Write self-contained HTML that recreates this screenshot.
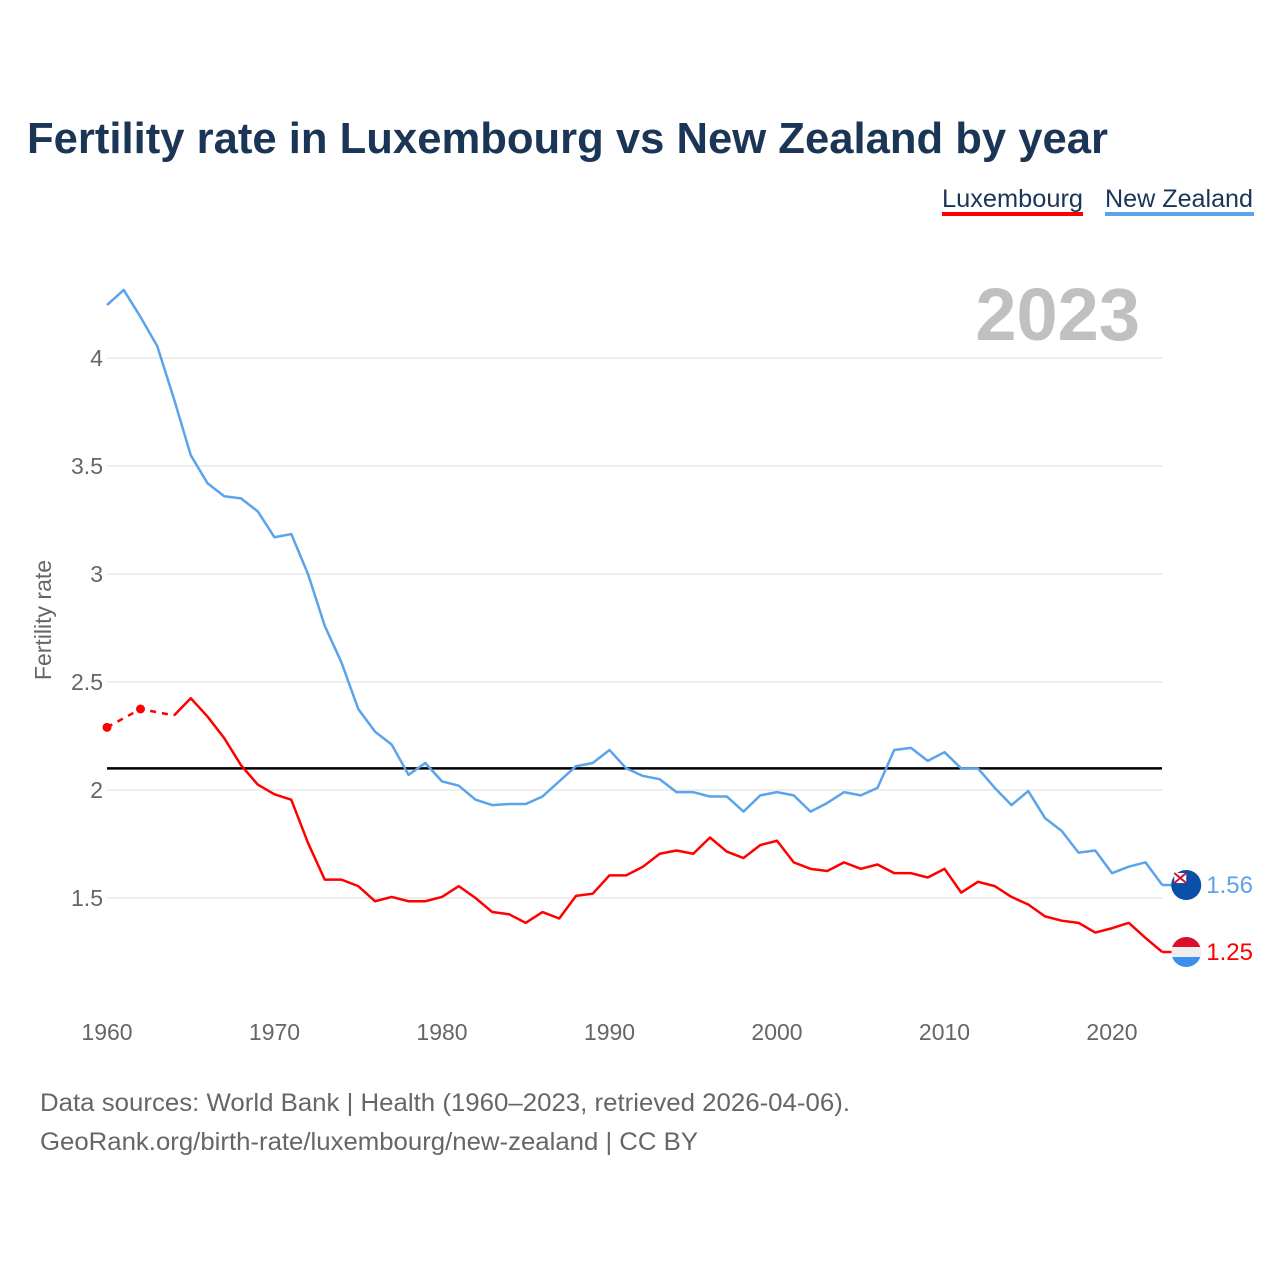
<!DOCTYPE html>
<html><head><meta charset="utf-8"><style>
body{margin:0;background:#fff;font-family:"Liberation Sans",sans-serif;}
#wrap{position:relative;width:1280px;height:1280px;overflow:hidden;}
</style></head><body>
<div id="wrap">
<svg id="chart" width="1280" height="1280">
<text x="27" y="153" font-size="44" font-weight="bold" fill="#1b3556" textLength="1081" lengthAdjust="spacingAndGlyphs">Fertility rate in Luxembourg vs New Zealand by year</text>
<g><text x="942" y="207" font-size="25" fill="#1b3556" textLength="141" lengthAdjust="spacingAndGlyphs">Luxembourg</text><rect x="942" y="212" width="141" height="4" fill="#ff0000"/></g>
<g><text x="1105" y="207" font-size="25" fill="#1b3556" textLength="148" lengthAdjust="spacingAndGlyphs">New Zealand</text><rect x="1105" y="212" width="149" height="4" fill="#5ba3ea"/></g>
<text x="1140" y="340" font-size="74" font-weight="bold" fill="#c0c0c0" text-anchor="end">2023</text>
<text transform="translate(51,620) rotate(-90)" font-size="23" fill="#666" text-anchor="middle">Fertility rate</text>
<g id="grid"></g><g id="marks"></g>
<text x="40" y="1111" font-size="25" fill="#666" textLength="810" lengthAdjust="spacingAndGlyphs">Data sources: World Bank | Health (1960–2023, retrieved 2026-04-06).</text>
<text x="40" y="1150" font-size="25" fill="#666" textLength="658" lengthAdjust="spacingAndGlyphs">GeoRank.org/birth-rate/luxembourg/new-zealand | CC BY</text>
</svg></div>
<script>
const years=[];for(let y=1960;y<=2023;y++)years.push(y);
const nz=[4.245,4.315,4.19,4.055,3.81,3.55,3.42,3.36,3.35,3.29,3.17,3.185,3.0,2.76,2.59,2.375,2.27,2.21,2.07,2.125,2.04,2.02,1.955,1.93,1.935,1.935,1.97,2.04,2.11,2.125,2.185,2.1,2.065,2.05,1.99,1.99,1.97,1.97,1.9,1.975,1.99,1.975,1.9,1.94,1.99,1.975,2.01,2.185,2.195,2.135,2.175,2.1,2.1,2.01,1.93,1.995,1.87,1.81,1.71,1.72,1.615,1.645,1.665,1.56];
const lux=[2.29,null,2.375,null,2.345,2.425,2.34,2.24,2.115,2.025,1.98,1.955,1.755,1.585,1.585,1.555,1.485,1.505,1.485,1.485,1.505,1.555,1.5,1.435,1.425,1.385,1.435,1.405,1.51,1.52,1.605,1.605,1.645,1.705,1.72,1.705,1.78,1.715,1.685,1.745,1.765,1.665,1.635,1.625,1.665,1.635,1.655,1.615,1.615,1.595,1.635,1.525,1.575,1.555,1.505,1.47,1.415,1.395,1.385,1.34,1.36,1.385,1.315,1.25];
const yTicks=[1.5,2,2.5,3,3.5,4];
const xTicks=[1960,1970,1980,1990,2000,2010,2020];
const replacement=2.1;
const NS="http://www.w3.org/2000/svg";
const X=y=>107+(y-1960)*16.75;
const Y=v=>358+(4-v)*216;
function mk(tag,at,parent){const e=document.createElementNS(NS,tag);for(const k in at)e.setAttribute(k,at[k]);parent.appendChild(e);return e;}
const grid=document.getElementById('grid'),marks=document.getElementById('marks');
yTicks.forEach(t=>{
 const l=mk('line',{x1:107,x2:1162,y1:Y(t),y2:Y(t),stroke:'#e8e8e8','stroke-width':1.5},grid);
 
 
 const tx=mk('text',{x:103,y:Y(t)+8,'font-size':23,fill:'#666','text-anchor':'end'},grid);tx.textContent=t;
 
 
});
xTicks.forEach(t=>{
 const tx=mk('text',{x:X(t),y:1040,'font-size':23,fill:'#666','text-anchor':'middle'},grid);tx.textContent=t;
 
 
});
const ref=mk('line',{x1:107,x2:1162,y1:Y(replacement),y2:Y(replacement),stroke:'#000','stroke-width':2.5},marks);


function draw(vals,color,name){
 const pts=[];vals.forEach((v,i)=>{if(v!=null)pts.push([X(years[i]),Y(v),i]);});
 let firstSolid=0;for(let k=0;k<pts.length;k++){let ok=true;for(let j=k;j<pts.length-1;j++){if(pts[j+1][2]-pts[j][2]!==1){ok=false;break;}}if(ok){firstSolid=k;break;}}
 if(firstSolid>0){
  const d=mk('path',{d:'M'+pts.slice(0,firstSolid+1).map(p=>p[0]+','+p[1]).join('L'),fill:'none',stroke:color,'stroke-width':2.5,'stroke-dasharray':'6,6'},marks);
  
  
  pts.slice(0,firstSolid).forEach(p=>{const c=mk('circle',{cx:p[0],cy:p[1],r:4.5,fill:color},marks);
   
   });
 }
 const s=mk('path',{d:'M'+pts.slice(firstSolid).map(p=>p[0]+','+p[1]).join('L'),fill:'none',stroke:color,'stroke-width':2.5,'stroke-linejoin':'round'},marks);
 
 
 const last=vals[vals.length-1],lx=X(2023),ly=Y(last);
 mk('line',{x1:lx,x2:lx+12,y1:ly,y2:ly,stroke:color,'stroke-width':2.5},marks);
 const lbl=mk('text',{x:lx+44,y:ly+8,'font-size':24,fill:color},marks);lbl.textContent=last.toFixed(2);
 
 
 return [lx+24,ly];
}
const [nx,ny]=draw(nz,'#5ba3ea','new-zealand');
const [lx,ly]=draw(lux,'#ff0000','luxembourg');
const fl=mk('g',{},marks);


mk('clipPath',{id:'cl'},fl);mk('circle',{cx:lx,cy:ly,r:15},fl.firstChild);
mk('rect',{x:lx-15,y:ly-15,width:30,height:10,fill:'#d8102c','clip-path':'url(#cl)'},fl);
mk('rect',{x:lx-15,y:ly-5,width:30,height:10,fill:'#eee','clip-path':'url(#cl)'},fl);
mk('rect',{x:lx-15,y:ly+5,width:30,height:10,fill:'#3d8ef0','clip-path':'url(#cl)'},fl);
const fn=mk('g',{},marks);


mk('circle',{cx:nx,cy:ny,r:15,fill:'#0a4fa8'},fn);
mk('rect',{x:nx-12,y:ny-12,width:12,height:10,fill:'#fff'},fn);
mk('path',{d:`M${nx-12},${ny-12}L${nx},${ny-2}M${nx},${ny-12}L${nx-12},${ny-2}`,stroke:'#d8102c','stroke-width':2},fn);
</script>
</body></html>
